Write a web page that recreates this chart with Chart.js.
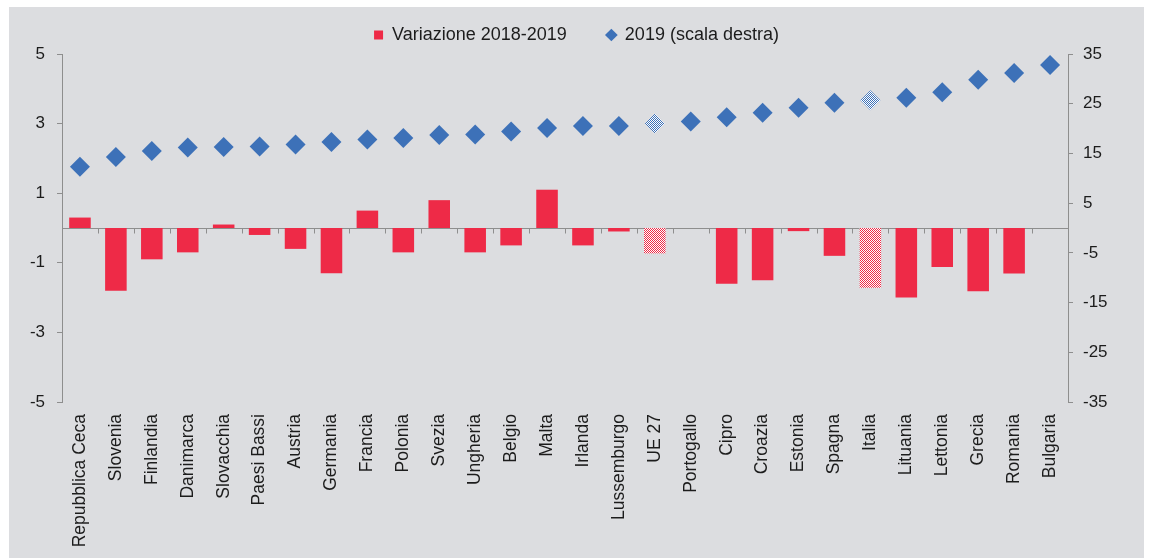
<!DOCTYPE html>
<html lang="it">
<head>
  <meta charset="UTF-8" />
  <title>Variazione 2018-2019</title>
  <script src="https://cdn.jsdelivr.net/npm/chart.js"></script>
  <style>
    html, body { margin: 0; padding: 0; background: #ffffff; }
    /* pannello grigio come nell'originale */
    .panel {
      position: absolute; left: 9px; top: 7px; width: 1135px; height: 551px;
      background: #dcdde0;
    }
    .wrap { position: absolute; left: 0; top: 0; width: 1149px; height: 559px; }
  </style>
</head>
<body>
  <div class="panel"></div>
  <div class="wrap"><canvas id="chart" width="1149" height="559"></canvas></div>

  <script>
    // dati
    const categories = ['Repubblica Ceca', 'Slovenia', 'Finlandia', 'Danimarca', 'Slovacchia', 'Paesi Bassi',
      'Austria', 'Germania', 'Francia', 'Polonia', 'Svezia', 'Ungheria', 'Belgio', 'Malta', 'Irlanda',
      'Lussemburgo', 'UE 27', 'Portogallo', 'Cipro', 'Croazia', 'Estonia', 'Spagna', 'Italia', 'Lituania',
      'Lettonia', 'Grecia', 'Romania', 'Bulgaria'];
    const variazione = [0.3, -1.8, -0.9, -0.7, 0.1, -0.2, -0.6, -1.3, 0.5, -0.7, 0.8, -0.7, -0.5, 1.1, -0.5,
      -0.1, -0.73, 0, -1.6, -1.5, -0.09, -0.8, -1.72, -2.0, -1.12, -1.82, -1.31, 0];
    const livello2019 = [12.3, 14.3, 15.5, 16.2, 16.3, 16.4, 16.8, 17.3, 17.8, 18.1, 18.7, 18.8, 19.4, 20.1, 20.5,
      20.5, 21.0, 21.4, 22.3, 23.2, 24.2, 25.2, 25.7, 26.2, 27.3, 29.8, 31.2, 32.8];
    const leftTicks = [-5, -3, -1, 1, 3, 5];
    const rightTicks = [-35, -25, -15, -5, 5, 15, 25, 35];
    const highlighted = ['UE 27', 'Italia'];

    const RED = '#ee2a47';
    const BLUE = '#3d71b8';
    const AXIS = '#8e8e8e';
    const TEXT = '#1c1c1c';
    const FONT = 'Arial, "Liberation Sans", sans-serif';

    // retino a scacchi per UE 27 e Italia
    function checker(color) {
      const c = document.createElement('canvas');
      c.width = 2; c.height = 2;
      const g = c.getContext('2d');
      g.fillStyle = '#ffffff';
      g.fillRect(0, 0, 2, 2);
      g.fillStyle = color;
      g.fillRect(0, 0, 1, 1);
      g.fillRect(1, 1, 1, 1);
      return g.createPattern(c, 'repeat');
    }
    const redPattern = checker(RED);
    const bluePattern = checker(BLUE);
    const barColors = categories.map(c => highlighted.includes(c) ? redPattern : RED);
    const pointColors = categories.map(c => highlighted.includes(c) ? bluePattern : BLUE);

    // linea dello zero con le tacche tra le categorie
    const zeroLine = {
      id: 'zeroLine',
      beforeDatasetsDraw(chart) {
        const { ctx, chartArea, scales } = chart;
        const y0 = Math.round(scales.y.getPixelForValue(0)) + 0.5;
        const half = (scales.x.getPixelForValue(1) - scales.x.getPixelForValue(0)) / 2;
        ctx.save();
        ctx.strokeStyle = AXIS;
        ctx.lineWidth = 1;
        ctx.beginPath();
        ctx.moveTo(chartArea.left, y0);
        ctx.lineTo(chartArea.right, y0);
        for (let i = 1; i < categories.length; i++) {
          const x = Math.round(scales.x.getPixelForValue(i) - half) + 0.5;
          ctx.moveTo(x, y0);
          ctx.lineTo(x, y0 + 5);
        }
        ctx.stroke();
        ctx.restore();
      }
    };

    new Chart(document.getElementById('chart'), {
      type: 'bar',
      data: {
        labels: categories,
        datasets: [
          {
            type: 'line',
            label: '2019 (scala destra)',
            data: livello2019,
            yAxisID: 'y2',
            showLine: false,
            pointStyle: 'rectRot',
            pointRadius: 10,
            pointHoverRadius: 10,
            pointBackgroundColor: pointColors,
            pointBorderColor: pointColors,
            pointBorderWidth: 0,
            backgroundColor: BLUE,
            borderColor: BLUE,
            order: 0
          },
          {
            label: 'Variazione 2018-2019',
            data: variazione,
            yAxisID: 'y',
            backgroundColor: barColors,
            borderWidth: 0,
            barPercentage: 0.6,
            categoryPercentage: 1,
            order: 1
          }
        ]
      },
      options: {
        responsive: false,
        animation: false,
        layout: { padding: { left: 9, right: 5, top: -14, bottom: 1 } },
        plugins: {
          tooltip: { enabled: false },
          legend: {
            position: 'top',
            reverse: true,
            labels: {
              usePointStyle: true,
              boxWidth: 9,
              boxHeight: 9,
              padding: 40,
              color: TEXT,
              font: { family: FONT, size: 18 },
              generateLabels(chart) {
                const items = Chart.defaults.plugins.legend.labels.generateLabels(chart);
                items.forEach(it => {
                  it.pointStyle = it.datasetIndex === 1 ? 'rect' : 'rectRot';
                  it.fillStyle = it.datasetIndex === 1 ? RED : BLUE;
                  it.strokeStyle = it.fillStyle;
                  it.lineWidth = 0;
                });
                return items;
              }
            }
          }
        },
        scales: {
          x: {
            grid: { display: false },
            border: { display: false },
            ticks: {
              autoSkip: false,
              maxRotation: 90,
              minRotation: 90,
              padding: 4,
              color: TEXT,
              font: { family: FONT, size: 17.5 }
            },
            afterFit(s) { s.height = 156; }
          },
          y: {
            position: 'left',
            min: -5,
            max: 5,
            afterBuildTicks(s) { s.ticks = leftTicks.map(v => ({ value: v })); },
            grid: { drawOnChartArea: false, tickLength: 5, color: AXIS },
            border: { color: AXIS },
            ticks: { padding: 12, color: TEXT, font: { family: FONT, size: 17 } },
            afterFit(s) { s.width = 53; }
          },
          y2: {
            position: 'right',
            min: -35,
            max: 35,
            afterBuildTicks(s) { s.ticks = rightTicks.map(v => ({ value: v })); },
            grid: { drawOnChartArea: false, tickLength: 5, color: AXIS },
            border: { color: AXIS },
            ticks: { padding: 10, color: TEXT, font: { family: FONT, size: 17 } },
            afterFit(s) { s.width = 76; }
          }
        }
      },
      plugins: [zeroLine]
    });
  </script>
</body>
</html>
